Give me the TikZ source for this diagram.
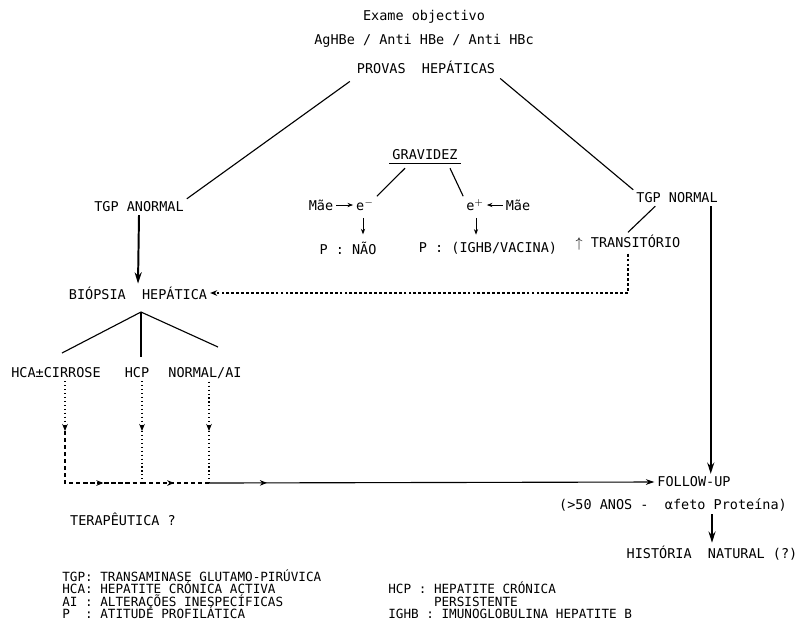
\documentclass[tikz,border=0pt]{standalone}
\usepackage{fontspec}
\setmonofont{DejaVu Sans Mono}
\usepackage{tikz}
\usetikzlibrary{arrows.meta,positioning,calc,decorations.markings}
\newcommand{\legfont}{\ttfamily\fontsize{9}{8.9}\selectfont\lineskiplimit-6pt\relax}

\begin{document}
\begin{tikzpicture}[
    x=0.025cm, y=-0.025cm,
    txt/.style={
      font=\ttfamily\fontsize{9.6}{11}\selectfont,
      inner sep=2pt
    },
    legend/.style={
      font=\legfont,
      align=left,
      anchor=north west,
      inner sep=0pt
    },
    ln/.style={
      line width=0.8pt
    },
    thk/.style={
      line width=1.4pt,
      -{Stealth[length=8pt,width=5pt]}
    },
    sarr/.style={
      line width=0.6pt,
      -{Stealth[length=4pt,width=3pt]}
    },
    dotarr/.style={
      line width=0.8pt,
      dotted,
      -{Stealth[length=5pt,width=4pt]}
    },
    dasharr/.style={
      line width=0.8pt,
      dash pattern=on 2pt off 1.5pt,
      -{Stealth[length=5pt,width=4pt]}
    },
    dotln/.style={
      line width=0.8pt,
      dotted
    },
    dashln/.style={
      line width=0.8pt,
      dash pattern=on 3pt off 2pt
    },
    midarr/.style={
      postaction={decorate},
      decoration={markings,
        mark=at position #1 with {\arrow{Stealth[length=5pt,width=4pt]}}}
    }
  ]
  \useasboundingbox (0,0) rectangle (799,627);

  % Top
  \node[txt] (exame) at (424,17) {Exame objectivo};
  \node[txt] (aghbe) at (424,41) {AgHBe / Anti HBe / Anti HBc};
  \node[txt] (provas) at (426,67) {PROVAS~ HEPÁTICAS};

  % TGP branches
  \node[txt] (tgpan) at (139,207) {TGP ANORMAL};
  \node[txt] (tgpn) at (677,198) {TGP NORMAL};
  \node[txt] (trans) at (628,243) {$\uparrow$ TRANSITÓRIO};

  % Gravidez
  \node[txt] (grav) at (425,155) {GRAVIDEZ};
  \node[txt] (em) at (365,205) {e$^{-}$};
  \node[txt] (ep) at (475,205) {e$^{+}$};
  \node[txt] (mae1) at (321,205) {Mãe};
  \node[txt] (mae2) at (518,205) {Mãe};
  \node[txt] (pnao) at (348,248) {P : NÃO};
  \node[txt] (pvac) at (488,248) {P : (IGHB/VACINA)};

  % Biopsia
  \node[txt] (biop) at (138,293) {BIÓPSIA~ HEPÁTICA};
  \node[txt] (hca) at (56,373) {HCA±CIRROSE};
  \node[txt] (hcp) at (137,373) {HCP};
  \node[txt] (norm) at (205,373) {NORMAL/AI};
  \node[txt] (ter) at (123,519) {TERAPÊUTICA ?};

  % Follow-up
  \node[txt] (follow) at (694,482) {FOLLOW-UP};
  \node[txt] (afp) at (673,505) {(>50 ANOS -~ αfeto Proteína)};
  \node[txt] (hist) at (712,553) {HISTÓRIA~ NATURAL (?)};

  % Legend
  \node[legend] (legl) at (62,569) {TGP: TRANSAMINASE GLUTAMO-PIRÚVICA\\
    HCA: HEPATITE CRÓNICA ACTIVA\\
    AI~: ALTERAÇÕES INESPECÍFICAS\\
    P~~: ATITUDE PROFILÁTICA};
  \node[legend] (legr) at (388,581.5) {HCP : HEPATITE CRÓNICA\\
    ~~~~~~PERSISTENTE\\
    IGHB : IMUNOGLOBULINA HEPATITE B};

  % Connections at the top
  \draw[ln] ($(provas.south west)+(-4,5)$) -- (tgpan.north east);
  \draw[ln] ($(provas.south east)+(2,2)$) -- (tgpn.north west);
  \draw[ln] ($(tgpn.south west)+(22,0)$) -- (trans.north);
  \draw[thk] (tgpan.south) -- (biop.north);
  \draw[dasharr] (trans.south) |- (biop.east);

  % Gravidez connections
  \draw[ln] (grav.south west) -- (grav.south east);
  \draw[ln] ($(grav.south)+(-20,5)$) -- (em.north east);
  \draw[ln] ($(grav.south)+(25,5)$) -- (ep.north west);
  \draw[sarr] (mae1.east) -- (em.west);
  \draw[sarr] (mae2.west) -- (ep.east);
  \coordinate (emd) at ($(em.south)+(-2,4)$);
  \coordinate (epd) at ($(ep.south)+(1,4)$);
  \draw[sarr,shorten >=3pt] (emd) -- (emd |- pnao.north);
  \draw[sarr,shorten >=3pt] (epd) -- (epd |- pvac.north);

  % Biopsia tree
  \coordinate (apex) at (141,312);
  \coordinate (bl) at (62,353);
  \coordinate (bm) at (141,357);
  \coordinate (br) at (218,347);
  \draw[ln] (bl) -- (apex) -- (br);
  \draw[ln] (apex) -- (bm);

  % Towards follow-up
  \coordinate (hcab) at (65,431);
  \coordinate (hcpb) at (142,431);
  \coordinate (normb) at (209,431);
  \coordinate (j1) at (142,483);
  \coordinate (j2) at (209,483);
  \draw[dotarr] (hca.south -| hcab) -- (hcab);
  \draw[dotarr] (hcp.south -| hcpb) -- (hcpb);
  \draw[dotarr] (norm.south -| normb) -- (normb);
  \draw[dashln,midarr=0.7] (hcab) |- (j1);
  \draw[dotln] (hcpb) -- (j1);
  \draw[dashln,midarr=0.48] (j1) -- (j2);
  \draw[dotln] (normb) -- (j2);
  \draw[ln,midarr=0.13,-{Stealth[length=6pt,width=4pt]}] (j2) -- (follow.west);

  % Right column
  \coordinate (tv) at ($(tgpn.south east)+(-10,0)$);
  \draw[thk] (tv) -- (tv |- follow.north);
  \draw[thk] (afp.south -| hist.north) -- (hist.north);

\end{tikzpicture}
\end{document}
